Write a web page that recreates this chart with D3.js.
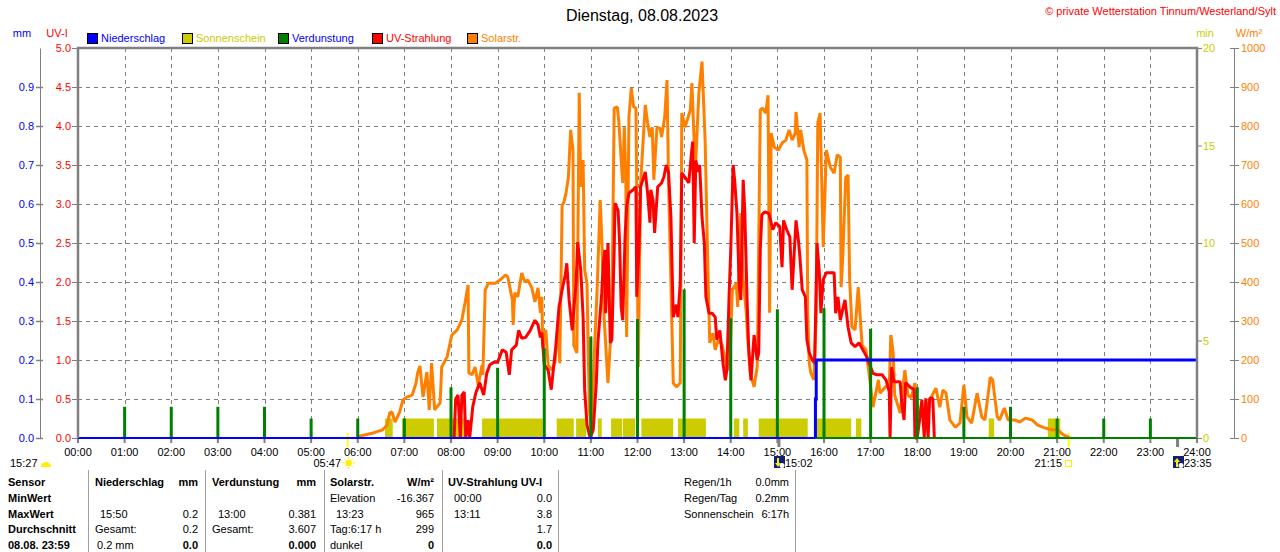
<!DOCTYPE html>
<html>
<head>
<meta charset="utf-8">
<script src="https://cdn.jsdelivr.net/npm/d3@7"></script>
<style>
  html, body { margin: 0; padding: 0; background: #fff; }
  svg { display: block; font-family: "Liberation Sans", Arial, sans-serif; }
</style>
</head>
<body>
<svg id="chart" width="1280" height="552"></svg>
<script>
// Tagesgrafik Wetterstation - Niederschlag / Sonne / Verdunstung / UV / Solar

const hourLabels = ["00:00","01:00","02:00","03:00","04:00","05:00","06:00","07:00","08:00",
  "09:00","10:00","11:00","12:00","13:00","14:00","15:00","16:00","17:00","18:00","19:00",
  "20:00","21:00","22:00","23:00","24:00"];
const uvTicks  = [0, 0.5, 1, 1.5, 2, 2.5, 3, 3.5, 4, 4.5, 5];
const mmTicks  = [0, 0.1, 0.2, 0.3, 0.4, 0.5, 0.6, 0.7, 0.8, 0.9];
const minTicks = [0, 5, 10, 15, 20];
const wTicks   = [0, 100, 200, 300, 400, 500, 600, 700, 800, 900, 1000];

// Niederschlag (mm, kumuliert)
const rainData = [["00:00",0],["15:49",0],["15:49",0.1],["15:50",0.1],["15:50",0.2],["24:00",0.2]];

// Verdunstung je Stunde (mm)
const evapHours  = [1,2,3,4,5,6,7,8,9,10,11,12,13,14,15,16,17,18,19,20,21,22,23];
const evapValues = [0.08,0.08,0.08,0.08,0.05,0.05,0.05,0.13,0.18,0.23,0.26,0.305,0.381,
  0.307,0.33,0.333,0.28,0.13,0.08,0.08,0.05,0.05,0.05];

// Sonnenschein-Intervalle (1 min je Minute)
const sunStart = ["06:35","06:57","07:42","08:40","10:16","10:41","11:09","11:26","11:41","12:05",
  "12:52","14:04","14:16","14:36","15:51","16:41","19:32","20:48"];
const sunEnd   = ["06:45","07:38","08:19","09:58","10:38","10:54","11:14","11:40","11:57","12:46",
  "13:28","14:11","14:22","15:39","16:35","16:48","19:39","21:04"];

// Solarstrahlung (W/m²)
const solarData = [["06:00",0],["06:03",5],["06:20",13],["06:32",21],["06:38",33],["06:41",64],["06:44",67],
  ["06:48",41],["06:54",67],["06:58",97],["07:03",105],["07:10",110],["07:15",141],["07:17",167],["07:20",185],
  ["07:24",105],["07:29",169],["07:32",72],["07:35",192],["07:39",72],["07:46",90],["07:48",182],["07:55",208],
  ["08:01",264],["08:08",277],["08:14",303],["08:18",346],["08:22",392],["08:23",167],["08:27",162],["08:31",182],
  ["08:35",136],["08:40",187],["08:41",162],["08:44",379],["08:48",397],["08:57",397],["09:03",405],["09:10",418],
  ["09:13",413],["09:19",354],["09:20",290],["09:22",372],["09:26",362],["09:31",423],["09:35",400],["09:39",405],
  ["09:44",385],["09:48",349],["09:52",385],["09:55",321],["09:57",362],["09:58",233],["10:02",277],["10:05",187],
  ["10:10",174],["10:14",195],["10:18",303],["10:20",192],["10:23",597],["10:25",603],["10:28",628],["10:31",667],
  ["10:34",790],["10:37",738],["10:38",238],["10:42",218],["10:45",885],["10:47",644],["10:50",713],["10:52",431],
  ["10:55",397],["10:58",72],["11:01",15],["11:05",244],["11:08",379],["11:12",610],["11:14",515],["11:17",310],
  ["11:22",141],["11:27",310],["11:30",846],["11:34",849],["11:36",810],["11:39",713],["11:41",654],["11:43",797],
  ["11:45",669],["11:46",259],["11:49",823],["11:52",897],["11:55",849],["11:58",846],["12:01",182],["12:04",654],
  ["12:10",854],["12:13",808],["12:16",772],["12:19",797],["12:21",662],["12:25",795],["12:29",795],["12:31",772],
  ["12:35",823],["12:38",918],["12:40",654],["12:46",141],["12:50",131],["12:55",141],["12:57",833],["13:01",797],
  ["13:04",815],["13:08",841],["13:10",910],["13:13",756],["13:15",713],["13:19",885],["13:21",926],["13:23",965],
  ["13:27",764],["13:31",397],["13:33",244],["13:37",269],["13:40",226],["13:44",251],["13:49",238],["13:53",200],
  ["13:56",174],["13:59",200],["14:02",379],["14:07",397],["14:09",336],["14:13",577],["14:16",405],["14:20",321],
  ["14:22",251],["14:25",167],["14:30",131],["14:34",182],["14:35",321],["14:38",841],["14:41",846],["14:45",833],
  ["14:48",879],["14:50",321],["14:52",782],["14:56",746],["15:01",738],["15:06",756],["15:11",764],["15:15",790],
  ["15:19",764],["15:23",782],["15:24",836],["15:28",746],["15:30",790],["15:34",738],["15:38",713],["15:39",321],
  ["15:41",192],["15:43",167],["15:47",149],["15:50",321],["15:52",808],["15:55",833],["15:59",490],["16:03",738],
  ["16:08",695],["16:13",679],["16:17",726],["16:21",720],["16:22",387],["16:24",456],["16:28",669],["16:31",674],
  ["16:33",405],["16:36",285],["16:40",277],["16:44",387],["16:49",238],["16:54",226],["16:59",149],["17:03",79],
  ["17:10",149],["17:12",115],["17:19",131],["17:24",136],["17:26",264],["17:29",218],["17:31",110],["17:38",64],
  ["17:44",174],["17:48",110],["17:52",103],["17:57",141],["18:02",59],["18:10",67],["18:16",97],["18:24",128],
  ["18:29",79],["18:33",123],["18:37",115],["18:42",46],["18:49",28],["18:55",38],["19:00",136],["19:04",54],
  ["19:10",38],["19:17",115],["19:23",54],["19:27",46],["19:34",156],["19:37",149],["19:43",54],["19:46",46],
  ["19:52",77],["19:57",46],["20:06",46],["20:12",41],["20:19",51],["20:28",46],["20:35",33],["20:44",26],
  ["20:53",21],["21:01",21],["21:08",8],["21:14",3],["21:16",0]];

// UV-Index
const uvData = [["08:04",0],["08:06",0.5],["08:09",0.55],["08:12",0],["08:14",0.55],["08:17",0.59],["08:19",0],
  ["08:22",0.23],["08:24",0],["08:28",0.4],["08:32",0.58],["08:37",0.71],["08:42",0.55],["08:46",0.83],["08:50",0.94],
  ["08:55",0.97],["09:00",0.97],["09:06",1.13],["09:11",1.1],["09:15",0.81],["09:18",1.13],["09:24",1.19],["09:27",1.38],
  ["09:31",1.28],["09:36",1.29],["09:42",1.38],["09:48",1.51],["09:52",1.45],["09:55",1.29],["09:57",1.35],["10:00",0.94],
  ["10:05",0.87],["10:09",0.62],["10:11",0.81],["10:15",1.19],["10:19",1.68],["10:23",1.9],["10:27",2.09],["10:29",2.24],
  ["10:32",1.77],["10:36",1.38],["10:38",1.64],["10:41",1.99],["10:43",2.51],["10:47",2.15],["10:50",1.55],["10:52",0.62],
  ["10:55",0.17],["10:59",0],["11:03",0.1],["11:07",0.71],["11:09",1.22],["11:12",1.6],["11:14",1.86],["11:16",2.24],
  ["11:18",2.41],["11:19",1.6],["11:22",2.5],["11:25",1.22],["11:27",1.26],["11:30",2.41],["11:31",3.01],["11:35",2.92],
  ["11:37",2.5],["11:39",1.68],["11:41",1.51],["11:44",2.58],["11:46",2.96],["11:49",3.14],["11:54",3.18],["11:58",3.22],
  ["11:59",1.81],["12:02",2.45],["12:04",3.22],["12:10",3.41],["12:13",3.14],["12:16",2.76],["12:17",3.18],["12:20",3.05],
  ["12:22",2.63],["12:26",3.22],["12:31",3.27],["12:34",3.35],["12:37",3.5],["12:40",3.4],["12:43",2.83],["12:46",1.55],
  ["12:50",1.71],["12:52",1.55],["12:55",1.99],["12:57",3.4],["13:02",3.33],["13:06",3.27],["13:09",3.6],["13:11",3.8],
  ["13:13",2.5],["13:15",3.56],["13:18",3.41],["13:20",3.5],["13:23",2.83],["13:26",2.5],["13:28",1.81],["13:32",1.6],
  ["13:36",1.6],["13:40",1.55],["13:42",1.26],["13:46",1.38],["13:50",0.96],["13:53",0.74],["13:55",0.87],["13:58",1.86],
  ["14:00",2.41],["14:03",3.5],["14:05",3.31],["14:08",2.88],["14:11",1.94],["14:13",1.77],["14:16",3.31],["14:18",2.92],
  ["14:21",1.77],["14:23",1.17],["14:26",0.74],["14:30",1.32],["14:34",1.0],["14:36",1.09],["14:38",2.41],["14:40",2.86],
  ["14:44",2.9],["14:49",2.88],["14:52",2.76],["14:54",2.67],["14:58",2.76],["15:03",2.71],["15:06",2.19],["15:08",2.79],
  ["15:12",2.67],["15:16",2.58],["15:19",1.9],["15:24",2.79],["15:27",2.54],["15:29",2.32],["15:32",1.9],["15:36",1.81],
  ["15:38",1.26],["15:41",1.09],["15:45",1.0],["15:48",0.96],["15:51",2.5],["15:54",2.12],["15:56",1.6],["15:59",2.03],
  ["16:03",2.12],["16:08",2.12],["16:13",2.12],["16:15",1.6],["16:18",1.81],["16:21",1.51],["16:23",1.6],["16:27",1.77],
  ["16:31",1.42],["16:35",1.22],["16:40",1.17],["16:45",1.22],["16:50",1.13],["16:55",1.04],["16:59",0.94],["17:03",0.83],
  ["17:08",0.81],["17:15",0.81],["17:20",0.74],["17:24",0.59],["17:25",0],["17:27",0.91],["17:30",0.72],["17:38",0.72],
  ["17:40",0.45],["17:43",0.23],["17:45",0.71],["17:51",0.65],["17:56",0.62],["17:57",0],["18:00",0],["18:03",0.23],
  ["18:06",0.49],["18:09",0],["18:11",0.51],["18:14",0],["18:16",0.51],["18:20",0.51],["18:22",0]];

// Tabelle unter der Grafik
const tableRows  = ["Sensor", "MinWert", "MaxWert", "Durchschnitt", "08.08. 23:59"];
const tableCols  = [
  { head: "Niederschlag", unit: "mm", x0: 95, x1: 198,
    left: ["", "15:50", "Gesamt:", "0.2 mm"], right: ["", "0.2", "0.2", "0.0"], indent: [0, 5, 0, 2] },
  { head: "Verdunstung", unit: "mm", x0: 212, x1: 316,
    left: ["", "13:00", "Gesamt:", ""], right: ["", "0.381", "3.607", "0.000"], indent: [0, 6, 0, 0] },
  { head: "Solarstr.", unit: "W/m²", x0: 330, x1: 434,
    left: ["Elevation", "13:23", "Tag:6:17 h", "dunkel"], right: ["-16.367", "965", "299", "0"], indent: [0, 6, 0, 0] },
  { head: "UV-Strahlung UV-I", unit: "", x0: 448, x1: 552,
    left: ["00:00", "13:11", "", ""], right: ["0.0", "3.8", "1.7", "0.0"], indent: [6, 6, 0, 0] },
];
const summaryLabels = ["Regen/1h", "Regen/Tag", "Sonnenschein"];
const summaryValues = ["0.0mm", "0.2mm", "6:17h"];
const tableLines = [88, 205, 324, 442, 558, 795];

const legendItems = [
  { label: "Niederschlag", fill: "#0000FF", text: "#0000FF", x: 87 },
  { label: "Sonnenschein", fill: "#CCCC00", text: "#CCCC00", x: 182 },
  { label: "Verdunstung",  fill: "#008000", text: "#0000FF", x: 278 },
  { label: "UV-Strahlung", fill: "#FF0000", text: "#FF0000", x: 372 },
  { label: "Solarstr.",    fill: "#FF8000", text: "#FF8000", x: 467 },
];

const GRID = "#808080";
const FS = "11px";

function t(s) {
  const [h, m] = s.split(":").map(Number);
  return h + m / 60;
}

const svg = d3.select("#chart");
svg.append("rect").attr("width", 1280).attr("height", 552).attr("fill", "#fff");

const L = 78, R = 1197, T = 48, B = 438;
const x    = d3.scaleLinear().domain([0, 24]).range([L, R]);
const yUV  = d3.scaleLinear().domain([0, 5]).range([B, T]);
const yMM  = d3.scaleLinear().domain([0, 1]).range([B, T]);
const yMin = d3.scaleLinear().domain([0, 20]).range([B, T]);
const yW   = d3.scaleLinear().domain([0, 1000]).range([B, T]);

// dashed grid
const grid = svg.append("g").attr("stroke", GRID).attr("stroke-dasharray", "4,4").attr("stroke-width", 1);
uvTicks.filter(v => v > 0 && v < 5).forEach(v => {
  grid.append("line").attr("x1", L).attr("x2", R).attr("y1", yUV(v) + 0.5).attr("y2", yUV(v) + 0.5);
});
d3.range(1, 24).forEach(h => {
  grid.append("line").attr("x1", Math.round(x(h)) + 0.5).attr("x2", Math.round(x(h)) + 0.5)
    .attr("y1", T).attr("y2", B);
});

// hour ticks below the baseline
d3.range(0, 25).forEach(h => {
  svg.append("line").attr("x1", x(h)).attr("x2", x(h)).attr("y1", B).attr("y2", B + 5)
    .attr("stroke", GRID).attr("stroke-width", 2);
});
["15:02", "23:35"].forEach(s => {
  svg.append("line").attr("x1", x(t(s))).attr("x2", x(t(s))).attr("y1", B).attr("y2", B + 9)
    .attr("stroke", GRID).attr("stroke-width", 3);
});
["05:47", "21:15"].forEach(s => {
  svg.append("line").attr("x1", x(t(s))).attr("x2", x(t(s))).attr("y1", B - 5).attr("y2", B + 9)
    .attr("stroke", "#FFFF00").attr("stroke-width", 2);
});

// sunshine blocks
svg.append("g").selectAll("rect").data(sunStart).join("rect")
  .attr("x", (d, i) => x(t(d)))
  .attr("width", (d, i) => x(t(sunEnd[i])) - x(t(d)))
  .attr("y", yMin(1))
  .attr("height", yMin(0) - yMin(1))
  .attr("fill", "#CCCC00");

const line = (ys) => d3.line().x(d => x(t(d[0]))).y(d => ys(d[1]));

svg.append("path").datum(solarData).attr("d", line(yW))
  .attr("fill", "none").attr("stroke", "#FF8000").attr("stroke-width", 3).attr("stroke-linejoin", "bevel");
svg.append("path").datum(uvData).attr("d", line(yUV))
  .attr("fill", "none").attr("stroke", "#FF0000").attr("stroke-width", 3).attr("stroke-linejoin", "bevel");

// Verdunstung: baseline + hourly bars
svg.append("line").attr("x1", L).attr("x2", R).attr("y1", yMM(0)).attr("y2", yMM(0))
  .attr("stroke", "#008000").attr("stroke-width", 2);
svg.append("g").selectAll("rect").data(evapHours).join("rect")
  .attr("x", d => x(d) - 1.5)
  .attr("width", 3)
  .attr("y", (d, i) => yMM(evapValues[i]))
  .attr("height", (d, i) => yMM(0) - yMM(evapValues[i]))
  .attr("fill", "#008000");

// Niederschlag
svg.append("path").datum(rainData.slice(0, 2)).attr("d", line(yMM))
  .attr("fill", "none").attr("stroke", "#0000FF").attr("stroke-width", 2);
svg.append("path").datum(rainData.slice(1)).attr("d", line(yMM))
  .attr("fill", "none").attr("stroke", "#0000FF").attr("stroke-width", 3);

// frame
svg.append("path").attr("d", `M${L},${B}V${T}H${R}V${B}`)
  .attr("fill", "none").attr("stroke", GRID).attr("stroke-width", 2.5);

function styleAxis(g, color) {
  g.attr("font-family", null).attr("font-size", null);
  g.selectAll("text").attr("fill", color).attr("font-size", FS);
  g.selectAll("line").attr("stroke", GRID);
  g.selectAll(".domain").attr("stroke", GRID);
}

const fmt1 = d3.format(".1f");
svg.append("g").attr("transform", "translate(40,0)")
  .call(d3.axisLeft(yMM).tickValues(mmTicks).tickFormat(fmt1).tickSize(4).tickSizeOuter(0).tickPadding(2))
  .call(g => styleAxis(g, "#0000FF"))
  .call(g => g.selectAll(".tick line").attr("x1", 3).attr("stroke-width", 1.5));

svg.append("g").attr("transform", `translate(${L},0)`)
  .call(d3.axisLeft(yUV).tickValues(uvTicks).tickFormat(fmt1).tickSize(6).tickPadding(1))
  .call(g => g.select(".domain").remove())
  .call(g => styleAxis(g, "#FF0000"));

svg.append("g").attr("transform", `translate(${R},0)`)
  .call(d3.axisRight(yMin).tickValues(minTicks).tickFormat(d3.format("d")).tickSize(5).tickPadding(1))
  .call(g => g.select(".domain").remove())
  .call(g => styleAxis(g, "#CCCC00"));

svg.append("g").attr("transform", "translate(1234,0)")
  .call(d3.axisRight(yW).tickValues(wTicks).tickFormat(d3.format("d")).tickSize(5).tickSizeOuter(0).tickPadding(2))
  .call(g => styleAxis(g, "#FF8000"))
  .call(g => g.selectAll(".tick line").attr("x1", -4));

// x labels
svg.append("g").selectAll("text").data(hourLabels).join("text")
  .attr("x", (d, i) => x(i)).attr("y", 456)
  .attr("text-anchor", "middle").attr("font-size", FS).attr("fill", "#000")
  .text(d => d);

// axis unit labels
[["mm", 22, "#0000FF"], ["UV-I", 57, "#FF0000"],
 ["min", 1205, "#CCCC00"], ["W/m²", 1249, "#FF8000"]].forEach(([txt, px, c]) => {
  svg.append("text").attr("x", px).attr("y", 37).attr("text-anchor", "middle")
    .attr("font-size", FS).attr("fill", c).text(txt);
});

// legend
const lg = svg.append("g");
legendItems.forEach(it => {
  lg.append("rect").attr("x", it.x + 0.5).attr("y", 33.5).attr("width", 10).attr("height", 10)
    .attr("fill", it.fill).attr("stroke", "#000");
  lg.append("text").attr("x", it.x + 14).attr("y", 42).attr("font-size", FS)
    .attr("fill", it.text).text(it.label);
});

// title + copyright
svg.append("text").attr("x", 642).attr("y", 21).attr("text-anchor", "middle")
  .attr("font-size", "16px").attr("fill", "#000").text("Dienstag, 08.08.2023");
svg.append("text").attr("x", 1276).attr("y", 15).attr("text-anchor", "end")
  .attr("font-size", FS).attr("fill", "#FF0000").text("© private Wetterstation Tinnum/Westerland/Sylt");

// sun / moon markers under the axis
function label(px, txt, anchor) {
  svg.append("text").attr("x", px).attr("y", 467).attr("text-anchor", anchor)
    .attr("font-size", FS).attr("fill", "#000").text(txt);
}
label(10, "15:27", "start");
svg.append("path").attr("d", "M41,467 A5,5 0 0 1 51,467 Z").attr("fill", "#FFEE00");

label(341, "05:47", "end");
const sx = x(t("05:47")) + 1, sy = 463;
svg.append("circle").attr("cx", sx).attr("cy", sy).attr("r", 3.2).attr("fill", "#FFEE00");
d3.range(8).forEach(k => {
  const a = k * Math.PI / 4;
  svg.append("line").attr("x1", sx + Math.cos(a) * 4).attr("y1", sy + Math.sin(a) * 4)
    .attr("x2", sx + Math.cos(a) * 6).attr("y2", sy + Math.sin(a) * 6)
    .attr("stroke", "#FFEE00").attr("stroke-width", 1);
});

label(1062, "21:15", "end");
svg.append("rect").attr("x", 1065.5).attr("y", 460.5).attr("width", 6).attr("height", 6)
  .attr("fill", "#fff").attr("stroke", "#FFEE00").attr("stroke-width", 1);

function moon(px, up) {
  const g = svg.append("g").attr("transform", `translate(${px},456)`);
  g.append("rect").attr("width", 11).attr("height", 12).attr("fill", "#10207A");
  g.append("circle").attr("cx", 8).attr("cy", 9.5).attr("r", 2.5).attr("fill", "#fff");
  g.append("path").attr("d", up ? "M4,2 L7,6 L5,6 L5,11 L3,11 L3,6 L1,6 Z"
                                : "M4,11 L7,7 L5,7 L5,2 L3,2 L3,7 L1,7 Z")
    .attr("fill", "#FFEE00");
}
moon(774, false);
label(785, "15:02", "start");
moon(1173, true);
label(1184, "23:35", "start");

// table
const tb = svg.append("g").attr("font-size", FS).attr("fill", "#000");
tableLines.forEach(px => {
  tb.append("line").attr("x1", px + 0.5).attr("x2", px + 0.5).attr("y1", 470).attr("y2", 552)
    .attr("stroke", "#A0A0A0");
});
const rowY = i => 486 + i * 15.8;
tableRows.forEach((r, i) => {
  tb.append("text").attr("x", 8).attr("y", rowY(i)).attr("font-weight", "bold").text(r);
});
tableCols.forEach(c => {
  tb.append("text").attr("x", c.x0).attr("y", rowY(0)).attr("font-weight", "bold").text(c.head);
  if (c.unit) tb.append("text").attr("x", c.x1).attr("y", rowY(0)).attr("text-anchor", "end")
    .attr("font-weight", "bold").text(c.unit);
  c.left.forEach((s, i) => {
    if (s) tb.append("text").attr("x", c.x0 + c.indent[i]).attr("y", rowY(i + 1)).text(s);
  });
  c.right.forEach((s, i) => {
    tb.append("text").attr("x", c.x1).attr("y", rowY(i + 1)).attr("text-anchor", "end")
      .attr("font-weight", i === 3 ? "bold" : null).text(s);
  });
});
summaryLabels.forEach((s, i) => {
  tb.append("text").attr("x", 684).attr("y", rowY(i)).text(s);
  tb.append("text").attr("x", 789).attr("y", rowY(i)).attr("text-anchor", "end").text(summaryValues[i]);
});
</script>
</body>
</html>
